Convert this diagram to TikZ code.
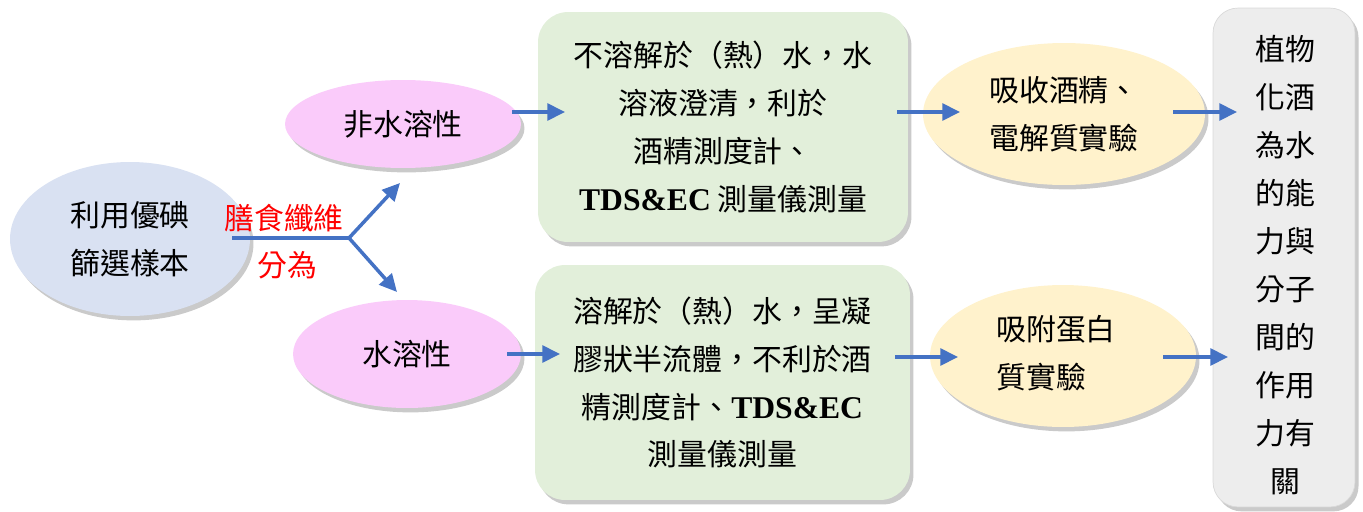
\documentclass[tikz,border=0pt]{standalone}
\usepackage{fontspec}
\setmainfont{Liberation Serif}
\newfontfamily\cjk{Noto Sans CJK TC}
\newfontfamily\tnr{Liberation Serif}
\usetikzlibrary{shadows,arrows.meta,shapes.geometric}
\definecolor{blueE}{HTML}{D9E1F2}
\definecolor{pinkE}{HTML}{FACBFA}
\definecolor{greenB}{HTML}{E2EFDA}
\definecolor{yellowE}{HTML}{FFF2CC}
\definecolor{grayB}{HTML}{EDEDED}
\definecolor{arrowblue}{HTML}{4472C4}
\tikzset{
  txt/.style={font={\cjk\fontsize{17}{27.3}\selectfont}, inner sep=0pt},
  shd/.style={drop shadow={shadow xshift=2pt, shadow yshift=-2.5pt, opacity=0.35, fill=black!60}},
  ell/.style={txt, shape=ellipse, draw=none, shd},
  rbox/.style={txt, shape=rectangle, rounded corners=0.6cm, draw=none, shd},
  arr/.style={draw=arrowblue, line width=2pt, -{Triangle[length=10pt,width=9.5pt]}},
  plain/.style={draw=arrowblue, line width=2pt},
  redlbl/.style={txt, text=red}
}
\begin{document}
\begin{tikzpicture}[x=0.02cm, y=-0.02cm]
\useasboundingbox (0,0) rectangle (1363,511);
% nodes
\node[ell, fill=blueE, minimum width=4.8cm, minimum height=3.08cm, align=center] (src) at (130,239) {利用優碘\\篩選樣本};
\node[ell, fill=pinkE, minimum width=4.72cm, minimum height=1.76cm] (p1) at (403,124) {非水溶性};
\node[ell, fill=pinkE, minimum width=4.56cm, minimum height=2.16cm] (p2) at (407,354) {水溶性};
\node[rbox, fill=greenB, minimum width=7.4cm, minimum height=4.6cm, align=center] (g1) at (723,127)
  {不溶解於（熱）水，水\\溶液澄清，利於\\酒精測度計、\\{\tnr\bfseries\fontsize{18}{27.3}\selectfont TDS\&EC} 測量儀測量};
\node[rbox, fill=greenB, minimum width=7.5cm, minimum height=4.7cm, align=center] (g2) at (722.5,382.5)
  {溶解於（熱）水，呈凝\\膠狀半流體，不利於酒\\精測度計、{\tnr\bfseries\fontsize{18}{27.3}\selectfont TDS\&EC}\\測量儀測量};
\node[ell, fill=yellowE, minimum width=5.64cm, minimum height=2.84cm, align=left] (y1) at (1064,114) {吸收酒精、\\電解質實驗};
\node[ell, fill=yellowE, minimum width=5.32cm, minimum height=2.84cm] (y2) at (1063,356) {};
\node[txt, align=left] (y2t) at (1056,353) {吸附蛋白\\質實驗};
\node[rbox, fill=grayB, draw=black!15, rounded corners=0.5cm, minimum width=2.84cm, minimum height=9.98cm] (res) at (1284,257.5) {};
\node[txt, align=center] (rest) at (1285,265) {植物\\化酒\\為水\\的能\\力與\\分子\\間的\\作用\\力有\\關};
\node[redlbl] (l1) at (284,218) {膳食纖維};
\node[redlbl] (l2) at (287,265) {分為};
% coordinates
\coordinate (s0) at (232,238);
\coordinate (split) at (349,238);
\coordinate (up) at (400,183);
\coordinate (dn) at (397,292);
\coordinate (a1s) at (512,112); \coordinate (a1e) at (565,112);
\coordinate (a2s) at (507,354); \coordinate (a2e) at (560,354);
\coordinate (a3s) at (897,112); \coordinate (a3e) at (960,112);
\coordinate (a4s) at (895,357); \coordinate (a4e) at (958,357);
\coordinate (a5s) at (1173,112); \coordinate (a5e) at (1237,112);
\coordinate (a6s) at (1163,357); \coordinate (a6e) at (1228,357);
% connectors
\draw[plain] (s0) -- (split);
\draw[arr] (split) -- (up);
\draw[arr] (split) -- (dn);
\draw[arr] (a1s) -- (a1e);
\draw[arr] (a2s) -- (a2e);
\draw[arr] (a3s) -- (a3e);
\draw[arr] (a4s) -- (a4e);
\draw[arr] (a5s) -- (a5e);
\draw[arr] (a6s) -- (a6e);
\end{tikzpicture}
\end{document}
